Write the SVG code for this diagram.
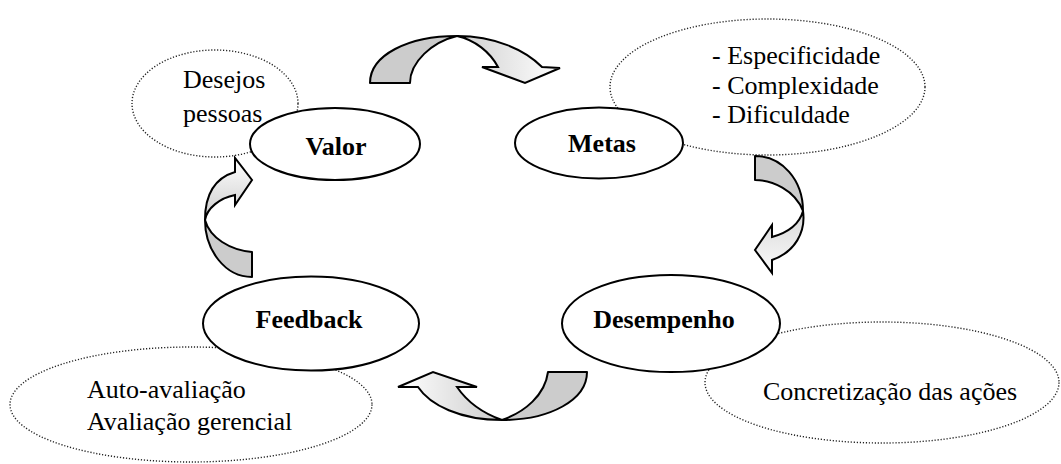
<svg xmlns="http://www.w3.org/2000/svg" width="1061" height="464" viewBox="0 0 1061 464">
<defs>
<style>
.note{fill:none;stroke:#222;stroke-width:1.4;stroke-dasharray:1.2 1.8;}
.node{fill:#fff;stroke:#000;stroke-width:2;}
.back{fill:#cccccc;stroke:#000;stroke-width:2;stroke-linejoin:round;}
.front{stroke:#000;stroke-width:2;stroke-linejoin:miter;}
.t{font-family:"Liberation Serif","Times New Roman",serif;font-size:26px;fill:#000;}
.b{font-weight:bold;text-anchor:middle;}
</style>
<linearGradient id="gTop" x1="0" y1="0" x2="1" y2="0"><stop offset="0" stop-color="#cfcfcf"/><stop offset="1" stop-color="#ffffff"/></linearGradient>
<linearGradient id="gRight" x1="0" y1="0" x2="0" y2="1"><stop offset="0" stop-color="#d8d8d8"/><stop offset="1" stop-color="#fafafa"/></linearGradient>
<linearGradient id="gBottom" x1="0" y1="0" x2="1" y2="0"><stop offset="0" stop-color="#ffffff"/><stop offset="1" stop-color="#cccccc"/></linearGradient>
<linearGradient id="gLeft" x1="0" y1="0" x2="0" y2="1"><stop offset="0" stop-color="#ffffff"/><stop offset="1" stop-color="#cccccc"/></linearGradient>
</defs>
<rect width="1061" height="464" fill="#fff"/>

<g id="note-desejos">
<ellipse class="note" cx="215" cy="103.5" rx="83" ry="53.5"/>
<text class="t" x="183" y="88">Desejos</text>
<text class="t" x="183" y="122">pessoas</text>
</g>
<g id="note-metas">
<ellipse class="note" cx="767.5" cy="87" rx="157.5" ry="68"/>
<text class="t" x="712" y="64">- Especificidade</text>
<text class="t" x="712" y="94">- Complexidade</text>
<text class="t" x="712" y="123">- Dificuldade</text>
</g>
<g id="note-feedback">
<ellipse class="note" cx="191" cy="404.5" rx="181" ry="57.5"/>
<text class="t" x="87" y="398">Auto-avaliação</text>
<text class="t" x="87" y="430">Avaliação gerencial</text>
</g>
<g id="note-desempenho">
<ellipse class="note" cx="882" cy="382.5" rx="177" ry="60.5"/>
<text class="t" x="763" y="400">Concretização das ações</text>
</g>

<g id="connectors">
<g id="arrow-valor-metas">
<path class="back" d="M370,83 C370,55 408,36 457,36 C432,42 410,62 410,83 Z"/>
<path class="front" fill="url(#gTop)" d="M457,36 C495,36 525,50 542,67 L560,68 L525,83 L482,67 L498,67 C490,52 475,40 457,36 Z"/>
</g>
<g id="arrow-metas-desempenho">
<path class="back" d="M755,156 L755,180 C772,180 795,190 803,211 C803,180 782,156 755,156 Z"/>
<path class="front" fill="url(#gRight)" d="M803,211 C806,232 795,252 772,260 L772,273 L755,250 L772,225 L772,237 C790,232 800,222 803,211 Z"/>
</g>
<g id="arrow-desempenho-feedback">
<path class="back" d="M548,372 L587,372 C587,400 550,420 502,420 C525,412 545,395 548,372 Z"/>
<path class="front" fill="url(#gBottom)" d="M502,420 C460,420 430,405 418,387 L398,387 L433,372 L477,387 L457,387 C468,403 485,414 502,420 Z"/>
</g>
<g id="arrow-feedback-valor">
<path class="back" d="M252,252 L252,277 C225,277 205,250 205,220 C210,238 230,250 252,252 Z"/>
<path class="front" fill="url(#gLeft)" d="M205,220 C205,195 215,178 235,172 L235,158 L252,180 L235,205 L235,195 C220,198 207,208 205,220 Z"/>
</g>
</g>

<g id="node-valor">
<ellipse class="node" cx="335" cy="144" rx="85" ry="36"/>
<text class="t b" x="336" y="155">Valor</text>
</g>
<g id="node-metas">
<ellipse class="node" cx="599" cy="143" rx="84" ry="35.5"/>
<text class="t b" x="602" y="152">Metas</text>
</g>
<g id="node-feedback">
<ellipse class="node" cx="311" cy="323.5" rx="108" ry="47"/>
<text class="t b" x="309" y="328">Feedback</text>
</g>
<g id="node-desempenho">
<ellipse class="node" cx="671" cy="323.5" rx="109" ry="48.5"/>
<text class="t b" x="664" y="328">Desempenho</text>
</g>
</svg>
